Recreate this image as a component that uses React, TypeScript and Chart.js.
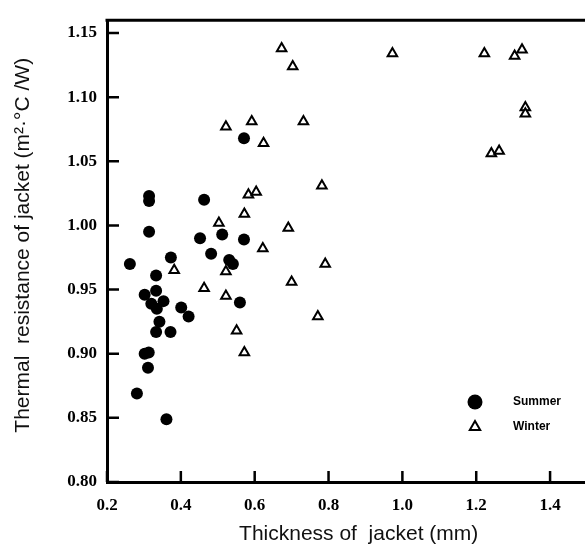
import React, { useEffect, useRef } from "react";
import { Chart, registerables } from "chart.js";

Chart.register(...registerables);

const seriesLabels = ["Summer", "Winter"];

const summerX = [
  0.262, 0.314, 0.314, 0.314, 0.373, 0.333, 0.463, 0.452, 0.512, 0.482,
  0.531, 0.541, 0.571, 0.571, 0.302, 0.333, 0.32, 0.335, 0.353, 0.342,
  0.333, 0.372, 0.401, 0.421, 0.56, 0.302, 0.313, 0.311, 0.281, 0.361,
];
const summerY = [
  0.97, 1.019, 1.023, 0.995, 0.975, 0.961, 1.02, 0.99, 0.993, 0.978,
  0.973, 0.97, 0.989, 1.068, 0.946, 0.949, 0.939, 0.935, 0.941, 0.925,
  0.917, 0.917, 0.936, 0.929, 0.94, 0.9, 0.901, 0.889, 0.869, 0.849,
];

const winterX = [
  0.673, 0.703, 0.522, 0.592, 0.732, 0.624, 0.782, 0.583, 0.604, 0.691,
  0.622, 0.791, 0.7, 0.771, 0.572, 0.503, 0.382, 0.522, 0.463, 0.522,
  0.551, 0.572, 0.973, 1.222, 1.304, 1.324, 1.333, 1.333, 1.241, 1.262,
];
const winterY = [
  1.138, 1.124, 1.077, 1.081, 1.081, 1.064, 1.031, 1.024, 1.026, 0.998,
  0.982, 0.97, 0.956, 0.929, 1.009, 1.002, 0.965, 0.964, 0.951, 0.945,
  0.918, 0.901, 1.134, 1.134, 1.132, 1.137, 1.092, 1.087, 1.056, 1.058,
];

const xTickValues = [0.2, 0.4, 0.6, 0.8, 1.0, 1.2, 1.4];
const yTickValues = [0.8, 0.85, 0.9, 0.95, 1.0, 1.05, 1.1, 1.15];

const xTitle = "    Thickness of  jacket (mm)";
const yTitle = "  Thermal  resistance of jacket (m²·°C /W)";

const tickFont = { family: "'Liberation Serif', 'Times New Roman', serif", size: 17, weight: "bold" as const };
const titleFont = { family: "'Liberation Sans', Arial, sans-serif", size: 21, weight: "normal" as const };

const innerTicksPlugin = {
  id: "innerTicks",
  afterDraw(chart: any) {
    const { ctx, chartArea } = chart;
    const xs = chart.scales.x;
    const ys = chart.scales.y;
    ctx.save();
    ctx.strokeStyle = "#000";
    ctx.lineWidth = 3;
    ctx.beginPath();
    ctx.moveTo(chartArea.left - 1.5, chartArea.top);
    ctx.lineTo(chartArea.right + 2, chartArea.top);
    ctx.stroke();
    ctx.lineWidth = 2.5;
    ctx.beginPath();
    xs.ticks.forEach((t: any) => {
      const px = xs.getPixelForValue(t.value);
      ctx.moveTo(px, chartArea.bottom);
      ctx.lineTo(px, chartArea.bottom - 11);
    });
    ys.ticks.forEach((t: any) => {
      const py = ys.getPixelForValue(t.value);
      ctx.moveTo(chartArea.left, py);
      ctx.lineTo(chartArea.left + 12, py);
    });
    ctx.stroke();
    ctx.restore();
  },
};

const legendPlugin = {
  id: "insideLegend",
  afterDraw(chart: any) {
    const { ctx, chartArea } = chart;
    const baseX = chartArea.right - 112;
    const baseY = chartArea.bottom - 80;
    ctx.save();
    ctx.font = "bold 12px 'Liberation Sans', Arial, sans-serif";
    ctx.textBaseline = "middle";
    chart.data.datasets.forEach((ds: any, i: number) => {
      const cy = baseY + i * 25;
      ctx.fillStyle = ds.backgroundColor;
      ctx.strokeStyle = ds.borderColor;
      ctx.lineWidth = ds.borderWidth || 0;
      const r = i === 0 ? 7.5 : 6;
      ctx.beginPath();
      if (ds.pointStyle === "circle") {
        ctx.arc(baseX, cy, r, 0, Math.PI * 2);
        ctx.fill();
      } else {
        let rad = 0;
        ctx.moveTo(baseX + Math.sin(rad) * r, cy - Math.cos(rad) * r);
        rad += (2 * Math.PI) / 3;
        ctx.lineTo(baseX + Math.sin(rad) * r, cy - Math.cos(rad) * r);
        rad += (2 * Math.PI) / 3;
        ctx.lineTo(baseX + Math.sin(rad) * r, cy - Math.cos(rad) * r);
        ctx.closePath();
        ctx.fill();
        if (ds.borderWidth) ctx.stroke();
      }
      ctx.fillStyle = "#000";
      ctx.fillText(ds.label, baseX + 38, cy);
    });
    ctx.restore();
  },
};

export default function App() {
  const ref = useRef<HTMLCanvasElement | null>(null);

  useEffect(() => {
    if (!ref.current) return;
    const summer = summerX.map((x, i) => ({ x, y: summerY[i] }));
    const winter = winterX.map((x, i) => ({ x, y: winterY[i] }));
    const chart = new Chart(ref.current, {
      type: "scatter",
      data: {
        datasets: [
          {
            label: seriesLabels[0],
            data: summer,
            pointStyle: "circle",
            pointRadius: 6,
            backgroundColor: "#000",
            borderColor: "#000",
            borderWidth: 0,
          },
          {
            label: seriesLabels[1],
            data: winter,
            pointStyle: "triangle",
            pointRadius: 5.5,
            backgroundColor: "#fff",
            borderColor: "#000",
            borderWidth: 2,
          },
        ],
      },
      options: {
        animation: false,
        responsive: false,
        events: [],
        layout: { padding: { left: 0, top: 10, right: 13, bottom: 0 } },
        plugins: {
          legend: { display: false },
          tooltip: { enabled: false },
        },
        scales: {
          x: {
            type: "linear",
            min: 0.2,
            max: 1.5,
            afterFit: (s: any) => {
              s.height = 65;
            },
            afterBuildTicks: (s: any) => {
              s.ticks = xTickValues.map((v) => ({ value: v }));
            },
            grid: { display: false, drawTicks: false },
            border: { display: true, color: "#000", width: 3 },
            ticks: {
              color: "#000",
              font: tickFont,
              padding: 13,
              maxRotation: 0,
              callback: (v: any) => Number(v).toFixed(1),
            },
            title: {
              display: true,
              text: xTitle,
              color: "#111",
              font: titleFont,
              padding: { top: 0, bottom: 0 },
            },
          },
          y: {
            type: "linear",
            min: 0.8,
            max: 1.16,
            afterFit: (s: any) => {
              s.width = 107;
            },
            afterBuildTicks: (s: any) => {
              s.ticks = yTickValues.map((v) => ({ value: v }));
            },
            grid: { display: false, drawTicks: false },
            border: { display: true, color: "#000", width: 3 },
            ticks: {
              color: "#000",
              font: tickFont,
              padding: 10,
              callback: (v: any) => Number(v).toFixed(2),
            },
            title: {
              display: true,
              text: yTitle,
              color: "#111",
              font: titleFont,
              padding: { top: 11, bottom: 0 },
            },
          },
        },
      },
      plugins: [innerTicksPlugin, legendPlugin],
    });
    return () => chart.destroy();
  }, []);

  return (
    <div
      style={{
        position: "fixed",
        left: 0,
        top: 0,
        width: 585,
        height: 547,
        overflow: "hidden",
        background: "#fff",
      }}
    >
      <canvas ref={ref} width={600} height={547} style={{ display: "block" }} />
    </div>
  );
}
